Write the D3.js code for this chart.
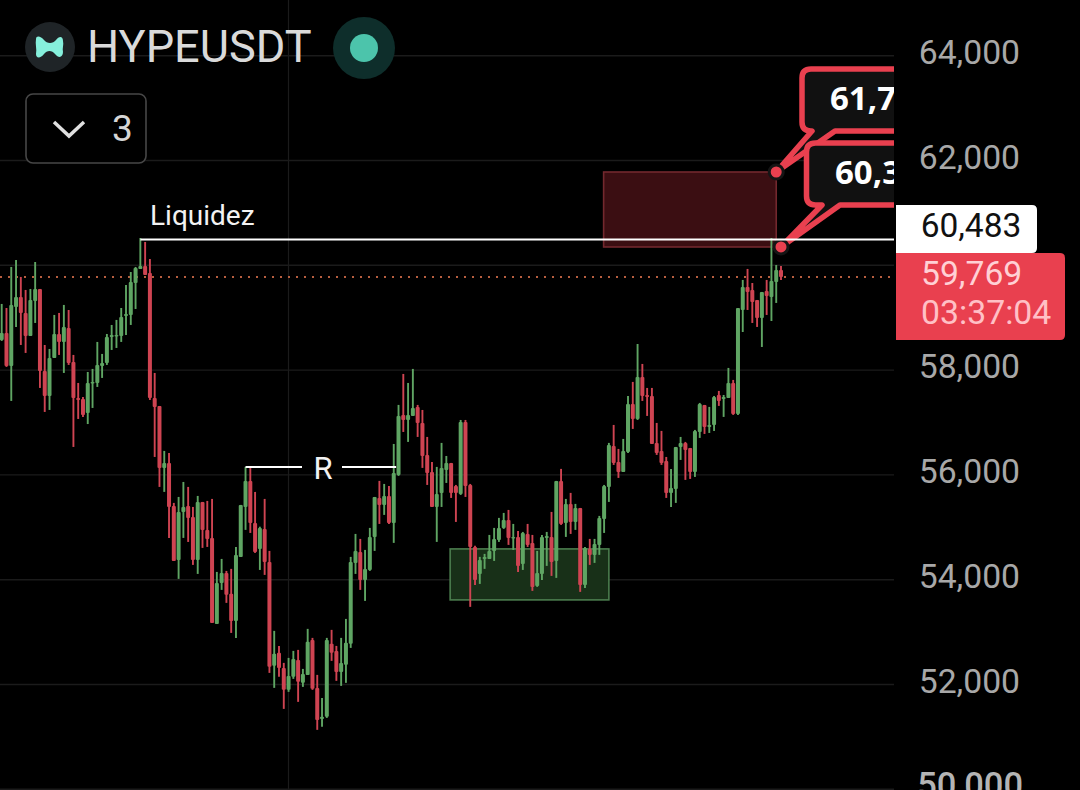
<!DOCTYPE html>
<html><head><meta charset="utf-8">
<script src="https://d3js.org/d3.v7.min.js"></script>
<style>html,body{margin:0;padding:0;background:#000;overflow:hidden}svg{display:block;font-family:Roboto,sans-serif}</style>
</head><body><svg id="c" width="1080" height="790"></svg>
<script>
const opens=[58566,58699,58070,59195,59386,59081,58642,59310,59539,57974,57497,58222,58680,58528,58795,58146,57459,57440,57173,57745,57745,58070,58127,58623,58642,58642,59024,59043,59653,59921,59978,59844,57459,57306,56124,56219,55398,54368,55284,55398,55189,54368,55475,54941,54788,53147,53929,54120,53720,53204,54426,55379,55875,55074,54578,54960,54330,52346,52594,52307,51888,52136,52460,52022,52174,52842,51926,51334,51373,52766,52632,52231,52365,52766,54311,54521,53987,54177,54807,55551,55418,55589,55074,55990,57135,57039,57116,57288,56982,56371,56047,55379,55647,56085,56219,55780,55628,57001,55799,54616,54101,54387,54387,54540,54750,54979,55131,54788,54807,54292,54864,54693,53872,54101,54788,54807,54349,55876,55074,55437,55093,55360,53891,54578,54464,54654,55151,55761,56543,56238,56047,56429,57345,57058,57860,57516,57497,56601,56448,56257,55647,55723,56524,56601,56505,56047,56811,57326,56906,56944,57516,57440,57459,57745,57154,59138,59577,59520,59329,58986,59501,59386,59673,59902];
const highs=[59253,59176,59959,60092,59768,59520,59539,60054,59539,58470,58394,59043,59081,59234,59138,58280,57745,57478,57955,58013,58528,58299,58680,58852,58948,59176,59615,59863,59959,60512,60436,60111,57936,57306,56448,56410,55456,55570,55856,55761,55379,55589,55475,55494,55532,54139,54387,54158,54197,54616,55418,56143,56143,55666,55002,55532,54540,53014,52727,52403,52498,52632,52651,52288,53052,52880,52174,51735,52880,53033,52727,52880,53242,54426,54864,54769,54559,54979,55570,55876,55818,55780,56581,57326,57917,57745,58013,57326,57230,56715,56238,56143,56601,56352,56219,55799,57039,57039,55818,54636,54426,54483,54845,54979,55170,55265,55322,55055,54922,54902,55055,54845,54540,54845,54902,55284,55876,56105,55532,55647,55437,55360,54616,54769,54769,55208,55799,56601,56944,56486,56677,57497,57765,58489,58108,57650,57650,56982,56830,56333,56105,56524,56715,56620,56505,56849,57364,57326,57288,57497,57593,57516,58032,57803,59176,59711,59921,59653,59329,59482,59711,60512,59997,59978];
const lows=[58547,58051,57402,58814,58470,58318,58642,58890,57650,57192,57230,58222,58280,57936,58089,56524,57058,57097,56961,57268,57669,57841,58089,58375,58413,58528,58661,58852,59157,59921,59806,57421,56333,55761,55666,54788,54349,54006,54788,54711,54273,54101,54597,54616,53166,53147,53796,53548,52975,52880,54426,54941,54883,54502,54177,54082,52212,51926,52136,51525,51850,52098,51659,51945,52174,51888,51125,51182,51353,52441,52060,51964,52022,52689,54101,53796,53586,54158,54540,55055,55227,55055,54693,55971,56810,56620,57135,56715,56124,55799,55379,54712,55379,55837,55551,55093,55608,55570,53472,53891,53910,54197,54387,54349,54712,54960,54655,54559,54139,54177,54616,53777,53853,53987,54254,54063,54025,55036,54807,54864,54941,53758,53834,54273,54311,54464,54883,55475,56181,55933,56047,56410,56868,57039,57402,57116,56582,56372,56181,55551,55379,55456,56276,55895,55914,55952,56696,56772,56791,56829,57307,57097,57459,57135,57135,58718,59138,58890,58814,58432,59043,58928,59272,59711];
const closes=[58699,58070,59234,59386,59081,58642,59329,59539,57974,57497,58222,58680,58528,58814,58127,57459,57421,57135,57745,57764,58089,58127,58623,58661,58661,59005,59062,59673,59940,59978,59806,57459,57288,56124,56219,55379,54349,55284,55379,55170,54368,55475,54941,54769,53166,53929,54120,53701,53204,54464,55418,55875,55074,54521,54979,54330,52327,52575,52307,51888,52155,52479,52041,52193,52804,51907,51315,51373,52842,52594,52231,52403,52785,54330,54540,53987,54197,54807,55570,55418,55589,55074,56028,57116,57039,57135,57268,56982,56352,56028,55379,55628,56124,56219,55647,55647,57001,55780,54616,53987,54368,54425,54540,54769,54979,55131,54788,54807,54254,54884,54655,53853,54120,54807,54826,54330,55876,55055,55437,55093,55360,53891,54597,54464,54673,55170,55780,56562,56219,56047,56448,57345,57058,57860,57497,57478,56582,56410,56219,55647,55742,56524,56601,56467,56047,56830,57345,56906,56944,57478,57402,57478,57745,57154,59176,59577,59482,59291,58986,59482,59405,59692,59902,59769];
const axisTicks=[64000,62000,60000,58000,56000,54000,52000,50000];
const axisHidden=[60000];
const levelPrice=60483, lastPrice=59769, countdown="03:37:04";
const redZone=[60340,61771], greenZone=[53605,54578];
const redZoneStart=125.9, redZoneEnd=162;
const greenZoneStart=93.8, greenZoneEnd=127;
const levelStart=29;
const resistancePrice=56140, resistanceStart=51, resistanceEnd=82.5;
const callouts=["61,7","60,3"], calloutPrices=[61771,60340], calloutIdx=[162,163];
const title="HYPEUSDT", badge="3", liquidity="Liquidez", rLabel="R";

const GREEN="#5fa563",RED="#cf4452",ALERT="#e9404f";
const svg=d3.select("#c");
const y=d3.scaleLinear().domain([50000,64000]).range([788.8,55.2]);
const x=d3.scaleLinear().domain([0,opens.length-1]).range([1.7,781]);
const defs=svg.append("defs");
defs.append("clipPath").attr("id","plot").append("rect").attr("width",894).attr("height",790);

svg.append("rect").attr("width",1080).attr("height",790).attr("fill","#000");

// grid
const grid=svg.append("g").attr("transform","translate(894,0)")
 .call(d3.axisLeft(y).tickValues(axisTicks).tickSize(894).tickFormat(""));
grid.select(".domain").remove();
grid.selectAll("line").attr("stroke","#1b1b1b").attr("stroke-width",1.4);
svg.append("line").attr("x1",288.5).attr("x2",288.5).attr("y1",0).attr("y2",790).attr("stroke","#1b1b1b").attr("stroke-width",1.2);

// zones
const plot=svg.append("g").attr("clip-path","url(#plot)");
plot.append("rect").attr("x",x(redZoneStart)).attr("width",x(redZoneEnd)-x(redZoneStart))
 .attr("y",y(redZone[1])).attr("height",y(redZone[0])-y(redZone[1]))
 .attr("fill","#3b0e12").attr("stroke","#73282e").attr("stroke-width",1.6);
plot.append("rect").attr("x",x(greenZoneStart)).attr("width",x(greenZoneEnd)-x(greenZoneStart))
 .attr("y",y(greenZone[1])).attr("height",y(greenZone[0])-y(greenZone[1]))
 .attr("fill","#183018").attr("stroke","#4b7d4e").attr("stroke-width",1.6);

// dotted last price
plot.append("line").attr("x1",0).attr("x2",894).attr("y1",y(lastPrice)).attr("y2",y(lastPrice))
 .attr("stroke","#b85f40").attr("stroke-width",2).attr("stroke-dasharray","2 6");

// candles
const idx=d3.range(opens.length);
const col=i=>closes[i]<opens[i]?RED:GREEN;
plot.append("g").selectAll("line").data(idx).join("line")
 .attr("x1",x).attr("x2",x).attr("y1",i=>y(highs[i])).attr("y2",i=>y(lows[i]))
 .attr("stroke",col).attr("stroke-width",1.9);
plot.append("g").selectAll("rect").data(idx).join("rect")
 .attr("x",i=>x(i)-2).attr("width",4)
 .attr("y",i=>y(Math.max(opens[i],closes[i])))
 .attr("height",i=>Math.max(1.5,Math.abs(y(opens[i])-y(closes[i]))))
 .attr("rx",1).attr("fill",col);

// annotations: R
const ry=y(resistancePrice);
plot.append("line").attr("x1",x(resistanceStart)).attr("x2",302).attr("y1",ry).attr("y2",ry).attr("stroke","#fff").attr("stroke-width",2);
plot.append("line").attr("x1",342).attr("x2",x(resistanceEnd)).attr("y1",ry).attr("y2",ry).attr("stroke","#fff").attr("stroke-width",2);
svg.append("text").attr("x",323).attr("y",479).attr("text-anchor","middle").attr("font-size",31).attr("fill","#f2f2f2").text(rLabel);
svg.append("text").attr("x",150).attr("y",225).attr("font-size",28).attr("fill","#f2f2f2").text(liquidity);

// callouts
const boxes=[{x:802,y:69,w:130,h:62,t:[812,835],tx:830,ty:110},{x:806.5,y:143,w:130,h:62,t:[822,840],tx:835,ty:184}];
const cg=plot.append("g");
boxes.forEach((b,k)=>{
 const px=x(calloutIdx[k]), py=y(calloutPrices[k]);
 const r=9,R=b.x+b.w,B=b.y+b.h;
 const d=`M${b.x+r},${b.y}H${R}V${B}H${b.t[1]}L${px},${py}L${b.t[0]},${B}H${b.x+r}Q${b.x},${B} ${b.x},${B-r}V${b.y+r}Q${b.x},${b.y} ${b.x+r},${b.y}Z`;
 cg.append("path").attr("d",d).attr("fill","#111").attr("stroke",ALERT).attr("stroke-width",5.5).attr("stroke-linejoin","round");
 cg.append("text").attr("x",b.tx).attr("y",b.ty).attr("font-family","'Open Sans',sans-serif").attr("font-weight",700).attr("font-size",33).attr("fill","#fff").text(callouts[k]);
});
boxes.forEach((b,k)=>{
 cg.append("circle").attr("cx",x(calloutIdx[k])).attr("cy",y(calloutPrices[k])).attr("r",7).attr("fill",ALERT).attr("stroke","#151515").attr("stroke-width",3);
});

// level line
plot.append("line").attr("x1",x(levelStart)).attr("x2",894).attr("y1",y(levelPrice)).attr("y2",y(levelPrice)).attr("stroke","#fff").attr("stroke-width",2);

// right axis
const ax=svg.append("g").attr("transform","translate(1020,0)")
 .call(d3.axisLeft(y).tickValues(axisTicks.filter(t=>!axisHidden.includes(t))).tickSize(0).tickPadding(0).tickFormat(d3.format(",")));
ax.select(".domain").remove();
ax.selectAll("text").attr("y",-2.5).attr("x",0).attr("font-family","Roboto,sans-serif").attr("font-size",33.7).attr("fill","#a8a8a8");
ax.selectAll("text").filter(d=>d===50000).attr("y",-3.5).attr("x",3).attr("font-size",34.5).attr("font-weight",500).attr("fill","#b4b4b4");

// price tags
svg.append("path").attr("d","M896,205H1032Q1037,205 1037,210V248Q1037,253 1032,253H896Z").attr("fill","#fff");
svg.append("text").attr("x",971).attr("y",237).attr("text-anchor","middle").attr("font-size",33.5).attr("fill","#111").text(d3.format(",")(levelPrice));
svg.append("path").attr("d","M896,253H1060Q1065,253 1065,258V335Q1065,340 1060,340H896Z").attr("fill",ALERT);
svg.append("text").attr("x",921).attr("y",285).attr("font-size",33.7).attr("fill","#ffd0d5").text(d3.format(",")(lastPrice));
svg.append("text").attr("x",921).attr("y",324).attr("font-size",33.8).attr("fill","#ffc0c6").text(countdown);

// header
svg.append("circle").attr("cx",50).attr("cy",47).attr("r",25).attr("fill","#1f2427");
svg.append("path").attr("d","M36,39C36,35 41,36 44,40C47,44 53,44 56,40C59,36 63,36 63,41C64,45 62,48 63,52C63,57 59,59 55,54C52,50 47,50 44,54C41,58 36,59 36,54C37,49 35,44 36,39Z").attr("fill","#86f0dc");
svg.append("text").attr("x",87).attr("y",62).attr("font-size",45.1).attr("fill","#dadada").text(title);
svg.append("circle").attr("cx",364).attr("cy",48).attr("r",31).attr("fill","#0e2e2b");
svg.append("circle").attr("cx",364).attr("cy",48).attr("r",14).attr("fill","#4cc4ab");
svg.append("rect").attr("x",26).attr("y",94).attr("width",120).attr("height",69).attr("rx",7).attr("fill","#000").attr("stroke","#474747").attr("stroke-width",1.6);
svg.append("path").attr("d","M54,122L69,136L84,122").attr("fill","none").attr("stroke","#e0e0e0").attr("stroke-width",3.5);
svg.append("text").attr("x",112).attr("y",141).attr("font-size",37).attr("fill","#d6d6d6").text(badge);
</script></body></html>
